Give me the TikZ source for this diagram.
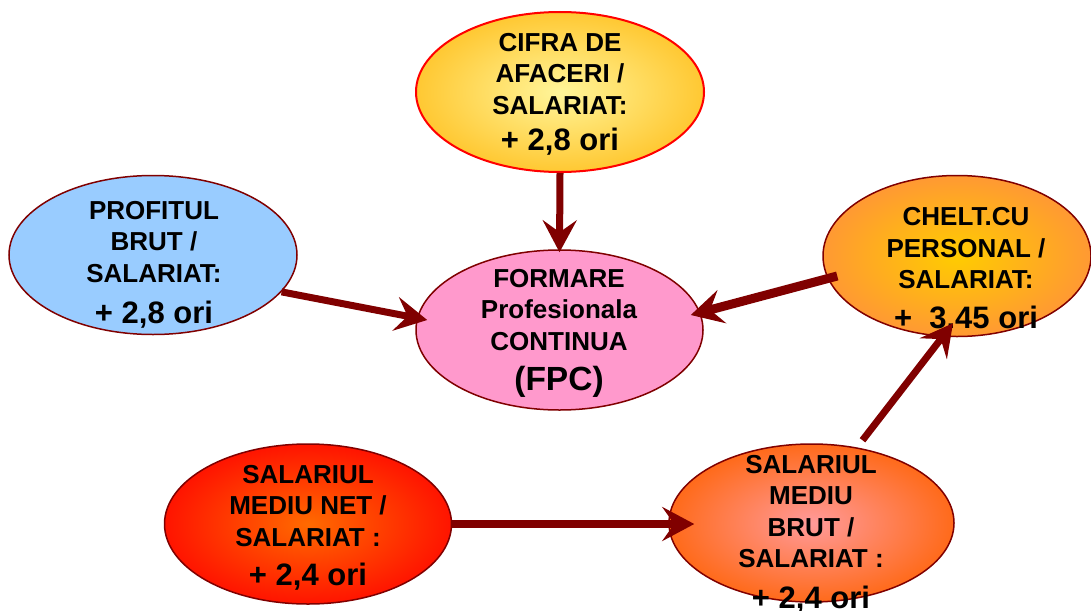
\documentclass[tikz,border=0pt]{standalone}
\usepackage{fontspec}
\setmainfont{Liberation Sans}
\usetikzlibrary{arrows.meta,shapes.geometric}
\definecolor{arrowred}{HTML}{800000}
\definecolor{yellowin}{HTML}{FFF59A}
\definecolor{yellowout}{HTML}{FFC832}
\definecolor{pinkfill}{HTML}{FF99CC}
\definecolor{bluefill}{HTML}{99CCFF}
\definecolor{orangein}{HTML}{FFCC00}
\definecolor{orangeout}{HTML}{FF9933}
\definecolor{redin}{HTML}{FF6A00}
\definecolor{redout}{HTML}{FF1400}
\definecolor{salmonin}{HTML}{FF9A9A}
\definecolor{salmonout}{HTML}{FF6A1A}
\begin{document}
\begin{tikzpicture}[x=1pt,y=-1pt,
  oval/.style={ellipse, draw=arrowred, line width=1.5pt, inner sep=0pt},
  lbl/.style={align=center, anchor=north, inner sep=0pt,
    font=\fontsize{26}{31.5}\selectfont\bfseries},
  arr/.style={draw=arrowred, -{Stealth[length=32pt,width=34pt,inset=12pt]}},
]
\fill[white] (0,0) rectangle (1091,610);
\useasboundingbox (0,0) rectangle (1091,610);

% ellipses
\node[oval, draw=red, line width=2pt, minimum width=288pt, minimum height=160pt,
      inner color=yellowin, outer color=yellowout] (cifra) at (560,92) {};
\node[oval, fill=pinkfill, minimum width=287pt, minimum height=160pt] (fpc) at (559.5,330) {};
\node[oval, fill=bluefill, minimum width=288pt, minimum height=159pt] (profit) at (153,255) {};
\node[oval, minimum width=268pt, minimum height=161pt,
      inner color=orangein, outer color=orangeout] (chelt) at (957,256) {};
\node[oval, minimum width=287pt, minimum height=160pt,
      inner color=redin, outer color=redout] (net) at (308,524) {};
\node[oval, minimum width=285pt, minimum height=158pt,
      inner color=salmonin, outer color=salmonout] (brut) at (811.5,523) {};

% labels
\newcommand{\bigline}[1]{{\fontsize{31}{36}\selectfont #1}}
\node[lbl] (cifraT) at (560,32.7) {CIFRA DE\\AFACERI /\\SALARIAT:\\[4.7pt]\bigline{+ 2,8 ori}};
\node[lbl] (fpcT) at (559,269) {FORMARE\\Profesionala\\CONTINUA\\[8.2pt]{\fontsize{33.5}{38}\selectfont (FPC)}};
\node[lbl] (profitT) at (154,201) {PROFITUL\\BRUT /\\SALARIAT:\\[9.7pt]\bigline{+ 2,8 ori}};
\node[lbl] (cheltT) at (966,207.5) {CHELT.CU\\PERSONAL /\\SALARIAT:\\[7.7pt]\bigline{+\ \ 3.45 ori}};
\node[lbl] (netT) at (308,465) {SALARIUL\\MEDIU NET /\\SALARIAT :\\[7.7pt]\bigline{+ 2,4 ori}};
\node[lbl] (brutT) at (811,455) {SALARIUL\\MEDIU\\BRUT /\\SALARIAT :\\[8.7pt]\bigline{+ 2,4 ori}};

% arrows
\draw[arr, line width=7pt] (cifra.south) -- ([shift={(0,3)}]fpc.north);
\draw[arr, line width=7pt] (profit.-16) -- ([shift={(12,-10)}]fpc.west);
\draw[arr, line width=9pt] ([shift={(15,20)}]chelt.west) -- ([shift={(-13,-15)}]fpc.east);
\draw[arr, line width=8pt] (net.east) -- ([shift={(26,1)}]brut.west);
\draw[arr, line width=7pt] ([shift={(51,-3)}]brut.north) -- ([shift={(-4,-14)}]chelt.south);
\end{tikzpicture}
\end{document}
